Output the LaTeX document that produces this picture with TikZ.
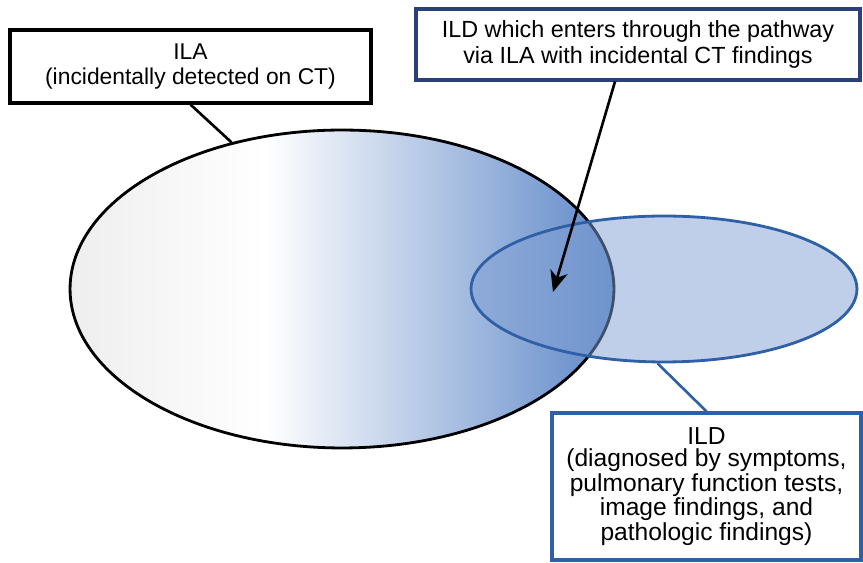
\documentclass[tikz,border=0pt]{standalone}
\usepackage{fontspec}
\setmainfont{Liberation Sans}
\usepackage{tikz}
\usetikzlibrary{shapes.geometric, arrows, arrows.meta, positioning, calc}

\definecolor{ilagray}{HTML}{EEEEEE}
\definecolor{ilablue}{HTML}{5F88C8}
\definecolor{ildfill}{HTML}{7F9FD3}
\definecolor{ildline}{HTML}{2F5FA5}
\definecolor{navyline}{HTML}{2B3F7A}

\pgfdeclarehorizontalshading{ilashade}{100bp}{color(0bp)=(ilagray); color(25bp)=(ilagray); color(43bp)=(white); color(75bp)=(ilablue); color(100bp)=(ilablue)}

\tikzset{
  labelbox/.style={draw, line width=1.8pt, fill=white, align=center, inner sep=0pt},
  region/.style={ellipse, inner sep=0pt, line width=1.6pt},
}

\begin{document}
\begin{tikzpicture}[x=0.02cm, y=-0.02cm]
\useasboundingbox (0,0) rectangle (863,563);

% ILA region (gradient) and ILD region on top of it
\node[region, draw, shade, shading=ilashade, minimum width=10.88cm, minimum height=6.36cm] (ila) at (342,289) {};
\node[region, draw=ildline, fill=ildfill, fill opacity=0.5, minimum width=7.72cm, minimum height=2.92cm] (ild) at (664,289) {};

% Label boxes
\node[labelbox, font=\fontsize{13}{14.5}\selectfont, minimum width=7.22cm, minimum height=1.46cm] (ilabox) at (190.5,66.5)
  {ILA\\(incidentally detected on CT)};
\node[labelbox, draw=navyline, font=\fontsize{13.3}{14.8}\selectfont, minimum width=8.88cm, minimum height=1.42cm] (pathbox) at (638,44.5)
  {ILD which enters through the pathway\\via ILA with incidental CT findings};
\node[labelbox, draw=ildline, font=\fontsize{14}{12.8}\selectfont, minimum width=6.18cm, minimum height=2.94cm] (ildbox) at (706.5,486.5)
  {ILD\\(diagnosed by symptoms,\\pulmonary function tests,\\image findings, and\\pathologic findings)};

% Connectors
\coordinate (tip) at (553,292);
\draw[line width=1.5pt] (ilabox.south) -- (ila.127);
\draw[line width=1.5pt, -{Stealth[length=12pt, width=10pt, inset=3.5pt]}] ([xshift=-0.46cm]pathbox.south) -- (tip);
\draw[ildline, line width=1.5pt] (ild.265) -- (ildbox.north);
\end{tikzpicture}
\end{document}
